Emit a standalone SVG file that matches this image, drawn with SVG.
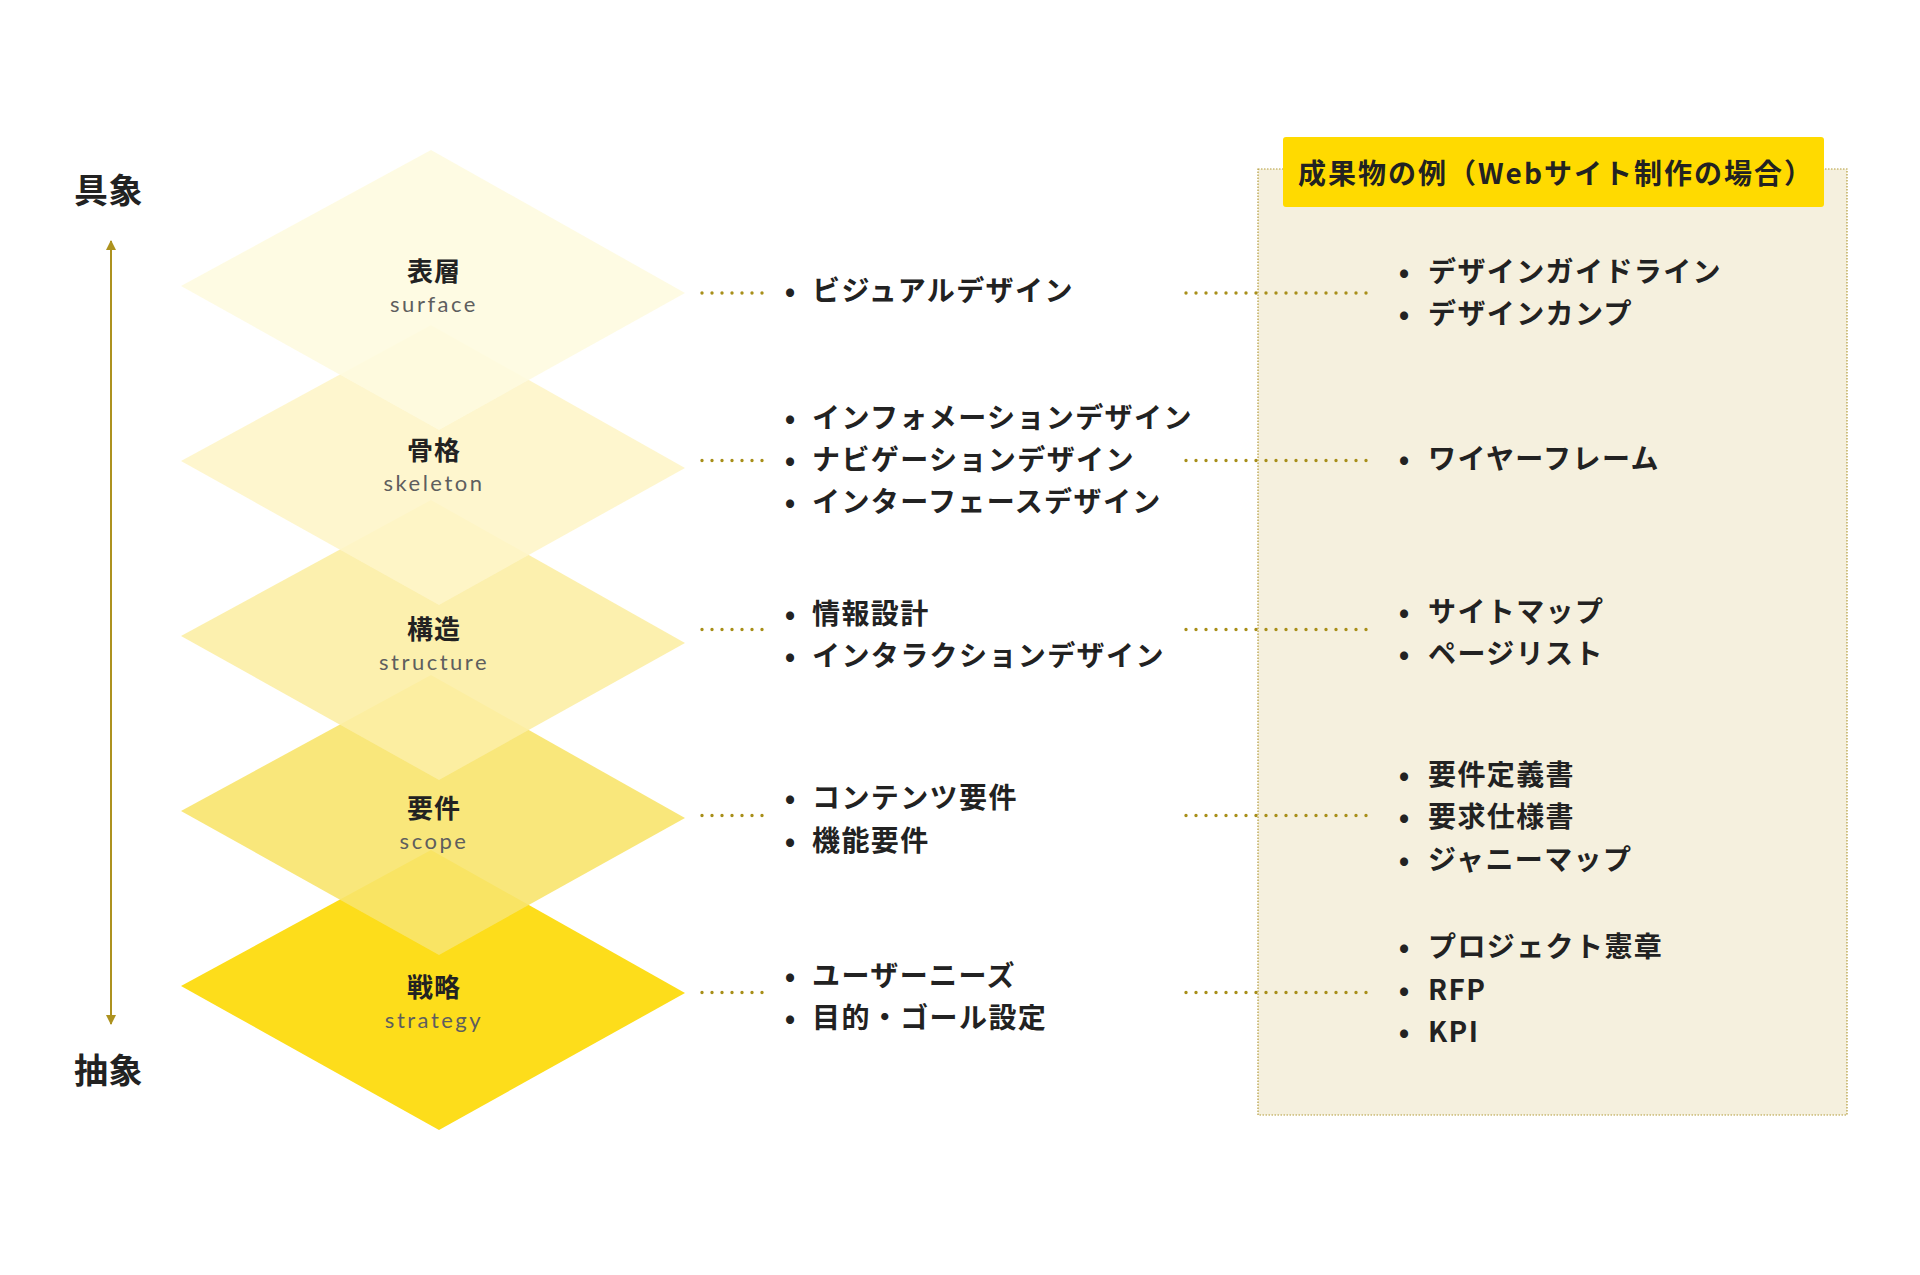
<svg xmlns="http://www.w3.org/2000/svg" width="1920" height="1275" viewBox="0 0 1920 1275">
<defs>
<style>
.jp{font-family:"Noto Sans CJK JP","Noto Sans",sans-serif;font-weight:700;fill:#222;}
.lbl{font-size:26px;letter-spacing:1px;text-anchor:middle;}
.en{font-family:Lato,"Noto Sans",sans-serif;font-size:22px;letter-spacing:2.5px;fill:#5E5E5E;text-anchor:middle;}
.item{font-size:28px;letter-spacing:1.4px;}
.bul{font-size:28px;text-anchor:middle;}
.dot{stroke:#A88F1A;stroke-width:3.4;stroke-linecap:round;stroke-dasharray:0 10;fill:none;}
.axis{stroke:#AD921F;stroke-width:2;fill:none;}
</style>
<marker id="ah" viewBox="0 0 10 10" refX="9" refY="5" markerWidth="10" markerHeight="10" markerUnits="userSpaceOnUse" orient="auto-start-reverse">
<path d="M0,0 L10,5 L0,10 z" fill="#AD921F"/>
</marker>
</defs>
<rect width="1920" height="1275" fill="#fff"/>

<g id="axis">
<line class="axis" x1="111" y1="241" x2="111" y2="1024" marker-start="url(#ah)" marker-end="url(#ah)"/>
<text class="jp" x="74" y="203" font-size="34" letter-spacing="0.5">具象</text>
<text class="jp" x="74" y="1083" font-size="34" letter-spacing="0.5">抽象</text>
</g>

<g id="layer-strategy">
<polygon points="181,986 431,850 685,993 439,1130" fill="#FDDD1B"/>
<text class="jp lbl" x="434" y="997">戦略</text>
<text class="en" x="434" y="1028">strategy</text>
</g>
<g id="layer-scope">
<polygon points="181,811 431,675 685,818 439,955" fill="#F8E46D" fill-opacity="0.9"/>
<text class="jp lbl" x="434" y="818">要件</text>
<text class="en" x="434" y="849">scope</text>
</g>
<g id="layer-structure">
<polygon points="181,636 431,500 685,643 439,780" fill="#FCEEA5" fill-opacity="0.9"/>
<text class="jp lbl" x="434" y="639">構造</text>
<text class="en" x="434" y="670">structure</text>
</g>
<g id="layer-skeleton">
<polygon points="181,461 431,325 685,468 439,605" fill="#FEF5C9" fill-opacity="0.9"/>
<text class="jp lbl" x="434" y="460">骨格</text>
<text class="en" x="434" y="491">skeleton</text>
</g>
<g id="layer-surface">
<polygon points="181,286 431,150 685,293 439,430" fill="#FEFBE0" fill-opacity="0.9"/>
<text class="jp lbl" x="434" y="281">表層</text>
<text class="en" x="434" y="312">surface</text>
</g>

<g id="deliverables-box">
<rect x="1258" y="169" width="589" height="946" fill="#F5F0DE" stroke="#B39B3A" stroke-width="1.2" stroke-dasharray="1.5 1.5"/>
<rect x="1283" y="137" width="541" height="70" rx="3" fill="#FFDA00"/>
<text class="jp" x="1298" y="184" font-size="28" letter-spacing="2">成果物の例（Webサイト制作の場合）</text>
</g>

<g id="connectors">
<line class="dot" x1="702" y1="293" x2="772" y2="293"/>
<line class="dot" x1="702" y1="460.5" x2="772" y2="460.5"/>
<line class="dot" x1="702" y1="629.5" x2="772" y2="629.5"/>
<line class="dot" x1="702" y1="815.5" x2="772" y2="815.5"/>
<line class="dot" x1="702" y1="992.5" x2="772" y2="992.5"/>
<line class="dot" x1="1186" y1="293" x2="1376" y2="293"/>
<line class="dot" x1="1186" y1="460.5" x2="1376" y2="460.5"/>
<line class="dot" x1="1186" y1="629.5" x2="1376" y2="629.5"/>
<line class="dot" x1="1186" y1="815.5" x2="1376" y2="815.5"/>
<line class="dot" x1="1186" y1="992.5" x2="1376" y2="992.5"/>
</g>

<g id="mid-surface">
<text class="jp bul" x="790" y="301">•</text>
<text class="jp item" x="812" y="301">ビジュアルデザイン</text>
</g>
<g id="mid-skeleton">
<text class="jp bul" x="790" y="428">•</text>
<text class="jp item" x="812" y="428">インフォメーションデザイン</text>
<text class="jp bul" x="790" y="470">•</text>
<text class="jp item" x="812" y="470">ナビゲーションデザイン</text>
<text class="jp bul" x="790" y="512">•</text>
<text class="jp item" x="812" y="512">インターフェースデザイン</text>
</g>
<g id="mid-structure">
<text class="jp bul" x="790" y="624">•</text>
<text class="jp item" x="812" y="624">情報設計</text>
<text class="jp bul" x="790" y="666">•</text>
<text class="jp item" x="812" y="666">インタラクションデザイン</text>
</g>
<g id="mid-scope">
<text class="jp bul" x="790" y="808">•</text>
<text class="jp item" x="812" y="808">コンテンツ要件</text>
<text class="jp bul" x="790" y="851">•</text>
<text class="jp item" x="812" y="851">機能要件</text>
</g>
<g id="mid-strategy">
<text class="jp bul" x="790" y="986">•</text>
<text class="jp item" x="812" y="986">ユーザーニーズ</text>
<text class="jp bul" x="790" y="1028">•</text>
<text class="jp item" x="812" y="1028">目的・ゴール設定</text>
</g>

<g id="out-surface">
<text class="jp bul" x="1404" y="282">•</text>
<text class="jp item" x="1428" y="282">デザインガイドライン</text>
<text class="jp bul" x="1404" y="324">•</text>
<text class="jp item" x="1428" y="324">デザインカンプ</text>
</g>
<g id="out-skeleton">
<text class="jp bul" x="1404" y="469">•</text>
<text class="jp item" x="1428" y="469">ワイヤーフレーム</text>
</g>
<g id="out-structure">
<text class="jp bul" x="1404" y="621.5">•</text>
<text class="jp item" x="1428" y="621.5">サイトマップ</text>
<text class="jp bul" x="1404" y="664">•</text>
<text class="jp item" x="1428" y="664">ページリスト</text>
</g>
<g id="out-scope">
<text class="jp bul" x="1404" y="784.5">•</text>
<text class="jp item" x="1428" y="784.5">要件定義書</text>
<text class="jp bul" x="1404" y="826.5">•</text>
<text class="jp item" x="1428" y="826.5">要求仕様書</text>
<text class="jp bul" x="1404" y="869.5">•</text>
<text class="jp item" x="1428" y="869.5">ジャニーマップ</text>
</g>
<g id="out-strategy">
<text class="jp bul" x="1404" y="956.5">•</text>
<text class="jp item" x="1428" y="956.5">プロジェクト憲章</text>
<text class="jp bul" x="1404" y="999.5">•</text>
<text class="jp item" x="1428" y="999.5">RFP</text>
<text class="jp bul" x="1404" y="1041.5">•</text>
<text class="jp item" x="1428" y="1041.5">KPI</text>
</g>
</svg>
